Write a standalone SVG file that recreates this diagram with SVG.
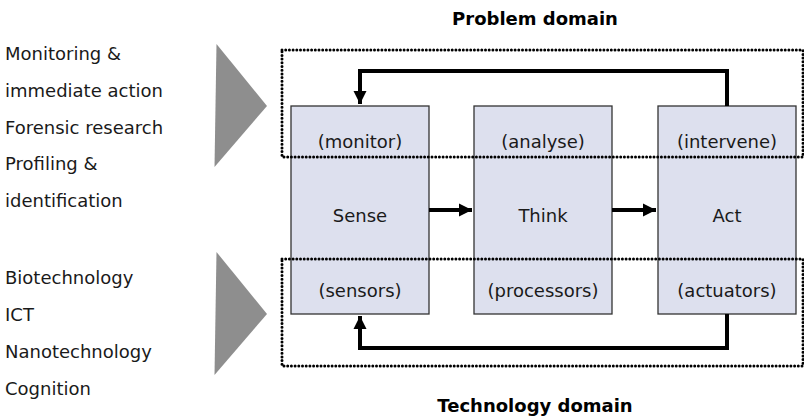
<svg xmlns="http://www.w3.org/2000/svg" width="804" height="417" viewBox="0 0 804 417">
<style>
text{font-family:"DejaVu Sans","Liberation Sans",sans-serif;fill:#1a1a1a}
.lbl{font-size:18px}
.c{font-size:18px;text-anchor:middle}
.h{font-size:18px;font-weight:bold;text-anchor:middle;fill:#000}
.box{fill:#dde0ee;stroke:#333;stroke-width:1.3}
.dot{fill:none;stroke:#000;stroke-width:3;stroke-linecap:round;stroke-dasharray:0 3.7}
.tri{fill:#8e8e8e}
.con{fill:none;stroke:#000;stroke-width:4}
</style>
<defs>
<marker id="ah" markerUnits="userSpaceOnUse" markerWidth="14" markerHeight="14" viewBox="0 0 14 14" refX="13" refY="7" orient="auto">
<path d="M0,0.5 L13,7 L0,13.5 Z" fill="#000"/>
</marker>
</defs>
<rect width="804" height="417" fill="#fff"/>
<g id="left-top-labels">
<text class="lbl" x="5" y="60">Monitoring &amp;</text>
<text class="lbl" x="5" y="97">immediate action</text>
<text class="lbl" x="5" y="134">Forensic research</text>
<text class="lbl" x="5" y="170">Profiling &amp;</text>
<text class="lbl" x="5" y="207">identification</text>
</g>
<g id="left-bottom-labels">
<text class="lbl" x="5" y="284">Biotechnology</text>
<text class="lbl" x="5" y="321">ICT</text>
<text class="lbl" x="5" y="358">Nanotechnology</text>
<text class="lbl" x="5" y="395">Cognition</text>
</g>
<g id="triangles">
<polygon class="tri" points="216.5,44 267,106 214.5,167"/>
<polygon class="tri" points="216.5,252 267,314 214.5,375"/>
</g>
<g id="sense">
<rect class="box" x="291" y="106" width="138" height="208"/>
<text class="c" x="360" y="148">(monitor)</text>
<text class="c" x="360" y="222">Sense</text>
<text class="c" x="360" y="297">(sensors)</text>
</g>
<g id="think">
<rect class="box" x="474" y="106" width="138" height="208"/>
<text class="c" x="543" y="148">(analyse)</text>
<text class="c" x="543" y="222">Think</text>
<text class="c" x="543" y="297">(processors)</text>
</g>
<g id="act">
<rect class="box" x="658" y="106" width="138" height="208"/>
<text class="c" x="727" y="148">(intervene)</text>
<text class="c" x="727" y="222">Act</text>
<text class="c" x="727" y="297">(actuators)</text>
</g>
<g id="domains">
<rect class="dot" x="282" y="50" width="521" height="107"/>
<rect class="dot" x="282" y="259" width="521" height="107"/>
<text class="h" x="535" y="25">Problem domain</text>
<text class="h" x="535" y="412">Technology domain</text>
</g>
<g id="connectors">
<path class="con" d="M727,106 V71 H360 V104" marker-end="url(#ah)"/>
<path class="con" d="M727,314 V348 H360 V316" marker-end="url(#ah)"/>
<path class="con" d="M429,210 H472" marker-end="url(#ah)"/>
<path class="con" d="M612,210 H656" marker-end="url(#ah)"/>
</g>
</svg>
